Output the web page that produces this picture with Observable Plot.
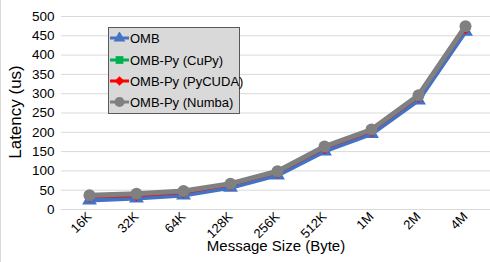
<!DOCTYPE html>
<html><head><meta charset="utf-8">
<script src="https://cdn.jsdelivr.net/npm/d3@7"></script>
<script src="https://cdn.jsdelivr.net/npm/@observablehq/plot@0.6"></script>
<style>
body{margin:0;background:#fff;}
#wrap{position:relative;width:490px;height:262px;overflow:hidden;font-family:"Liberation Sans",Arial,sans-serif;}
#wrap svg{display:block;}
#border{position:absolute;left:0;top:0;width:0;height:262px;border-left:1px solid #d9d9d9;pointer-events:none;}
#legend{position:absolute;left:108px;top:27px;width:130px;height:85px;background:#d9d9d9;border:1px solid #595959;font-size:13px;color:#000;}
.li{position:absolute;left:1px;height:20px;display:flex;align-items:center;white-space:nowrap;}
.li svg{margin-right:1px;}
</style></head>
<body><div id="wrap"><div id="border"></div></div>
<script>
const sizes = ["16K","32K","64K","128K","256K","512K","1M","2M","4M"];
const omb    = [24, 29, 37, 57, 89, 151, 196, 283, 461];
const cupy   = [36, 40, 47, 66, 98, 162, 206, 295, 474];
const pycuda = [32, 34, 42, 62, 94, 157, 201, 290, 467];
const numba  = [37, 41, 48, 67, 99, 163, 207, 296, 475];
const seriesNames = ["OMB","OMB-Py (CuPy)","OMB-Py (PyCUDA)","OMB-Py (Numba)"];
const colors = ["#4472C4","#00B050","#FF0000","#808080"];
const symbols = ["triangle","square","diamond2","circle"];
const widths = [4.5, 4, 1.5, 5];
const radii = [5.5, 4.5, 4.5, 6];
const yTicks = [0,50,100,150,200,250,300,350,400,450,500];

const all = [omb, cupy, pycuda, numba];
const rows = all.map((vals, s) => sizes.map((k, i) => ({size: k, value: vals[i], series: seriesNames[s]})));

const marks = [
  Plot.gridY(yTicks, {stroke: "#d9d9d9", strokeOpacity: 1, strokeWidth: 1}),
  Plot.axisY(yTicks, {tickSize: 0, tickPadding: 7, fontSize: 13.5, fill: "#000", label: null}),
  Plot.axisX({tickSize: 0, tickRotate: -45, tickPadding: 5, fontSize: 13, fill: "#000", label: null}),
];
rows.forEach((data, s) => {
  marks.push(Plot.line(data, {x: "size", y: "value", stroke: colors[s], strokeWidth: widths[s], strokeLinejoin: "round"}));
  marks.push(Plot.dot(data, {x: "size", y: "value", fill: colors[s], stroke: "none", symbol: symbols[s], r: radii[s]}));
});

const chart = Plot.plot({
  width: 490, height: 262,
  marginLeft: 61, marginRight: 0, marginTop: 16, marginBottom: 53,
  style: {fontFamily: "Liberation Sans, Arial, sans-serif", background: "transparent", overflow: "visible"},
  x: {type: "point", domain: sizes, padding: 0.5, range: [61, 492]},
  y: {domain: [0, 500], range: [209, 16]},
  marks
});
const wrap = document.getElementById("wrap");
wrap.insertBefore(chart, wrap.firstChild);

const svg = d3.select(chart);
svg.append("text").attr("x", 276).attr("y", 251).attr("text-anchor", "middle")
  .attr("font-size", 15).attr("fill", "#000").text("Message Size (Byte)");
svg.append("text").attr("transform", "translate(21,112) rotate(-90)").attr("text-anchor", "middle")
  .attr("font-size", 17).attr("fill", "#000").text("Latency (us)");

// legend
const lg = document.createElement("div");
lg.id = "legend";
const ys = [0, 22, 43, 64];
seriesNames.forEach((n, s) => {
  const it = document.createElement("div");
  it.className = "li";
  it.style.top = ys[s] + "px";
  const sym = d3.symbol(s === 0 ? d3.symbolTriangle : s === 1 ? d3.symbolSquare : s === 2 ? d3.symbolDiamond2 : d3.symbolCircle, s === 3 ? 80 : 60)();
  it.innerHTML = `<svg width="19" height="12"><line x1="0" x2="19" y1="6" y2="6" stroke="${colors[s]}" stroke-width="3"/><path transform="translate(9.5,6)" d="${sym}" fill="${colors[s]}"/></svg><span>${n}</span>`;
  lg.appendChild(it);
});
wrap.appendChild(lg);
</script></body></html>
